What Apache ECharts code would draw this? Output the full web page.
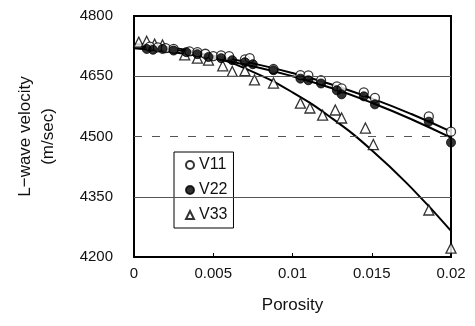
<!DOCTYPE html>
<html><head><meta charset="utf-8">
<script src="https://cdn.jsdelivr.net/npm/echarts@6/dist/echarts.min.js"></script>
<style>html,body{margin:0;padding:0;background:#fff}#c{width:475px;height:326px}</style>
</head><body><div id="c"></div>
<script>
// Measured points (porosity, velocity)
var v11 = [[0.0010,4724],[0.0015,4722],[0.0020,4720],[0.0025,4718],[0.0035,4712],[0.0040,4710],[0.0045,4706],[0.0050,4700],[0.0055,4702],[0.0060,4700],[0.0070,4692],[0.0073,4695],[0.0088,4668],[0.0105,4653],[0.0110,4652],[0.0118,4640],[0.0128,4625],[0.0131,4620],[0.0145,4610],[0.0152,4596],[0.0186,4550],[0.0200,4512]];
var v22 = [[0.0008,4718],[0.0012,4716],[0.0018,4718],[0.0025,4714],[0.0033,4710],[0.0040,4705],[0.0047,4698],[0.0055,4695],[0.0062,4690],[0.0070,4685],[0.0075,4680],[0.0088,4665],[0.0105,4644],[0.0110,4640],[0.0118,4632],[0.0128,4615],[0.0131,4605],[0.0145,4600],[0.0152,4580],[0.0186,4537],[0.0200,4485]];
var v33 = [[0.0003,4735],[0.0008,4737],[0.0013,4730],[0.0018,4728],[0.0032,4703],[0.0040,4695],[0.0047,4690],[0.0056,4676],[0.0062,4662],[0.0070,4664],[0.0076,4641],[0.0088,4633],[0.0105,4583],[0.0111,4571],[0.0119,4553],[0.0127,4566],[0.0131,4546],[0.0146,4521],[0.0151,4480],[0.0186,4317],[0.0200,4222]];
// Trend curves
var fitX = [0,0.0025,0.005,0.0075,0.01,0.0125,0.015,0.0175,0.02];
var fit11 = [4725,4716,4701,4682,4658,4629,4595,4556,4512];
var fit22 = [4720,4710,4695,4675,4650,4620,4584,4543,4497];
var fit33 = [4730,4721,4698,4661,4610,4545,4466,4372,4265];
var yTicks = [4200,4350,4500,4650,4800];
var xTicks = [0,0.005,0.01,0.015,0.02];

function pair(xs, ys){ return xs.map(function(x,i){return [x, ys[i]];}); }
var font = 'Liberation Sans, Arial, sans-serif';
var chart = echarts.init(document.getElementById('c'));
function fitLine(ys){
  return {type:'line', data:pair(fitX, ys), smooth:true, showSymbol:false, symbol:'none',
    lineStyle:{color:'#000', width:2}, silent:true, z:2};
}
chart.setOption({
  animation:false,
  grid:{left:134, right:24, top:16, bottom:69, show:true, borderColor:'#000', borderWidth:2},
  legend:{orient:'vertical', left:174, top:152, data:['V11','V22','V33'],
    borderColor:'#000', borderWidth:1, padding:[5,6,5,11], itemGap:9,
    itemWidth:8, itemHeight:8,
    textStyle:{fontFamily:font, fontSize:16, color:'#111'}},
  xAxis:{type:'value', min:0, max:0.02, interval:0.005,
    name:'Porosity', nameLocation:'middle', nameGap:40,
    nameTextStyle:{fontFamily:font, fontSize:17, color:'#111'},
    axisLine:{lineStyle:{color:'#000', width:2}},
    axisTick:{show:true, inside:true, length:4, lineStyle:{color:'#000'}},
    axisLabel:{fontFamily:font, fontSize:15, color:'#111', margin:9,
      formatter:function(v){return String(parseFloat(v.toFixed(4)));}},
    splitLine:{show:false}},
  yAxis:{type:'value', min:4200, max:4800, interval:150,
    name:'L\u2212wave velocity\n(m/sec)', nameLocation:'middle', nameGap:74,
    nameTextStyle:{fontFamily:font, fontSize:17, color:'#111', lineHeight:23},
    axisLine:{lineStyle:{color:'#000', width:2}},
    axisTick:{show:false},
    axisLabel:{fontFamily:font, fontSize:15, color:'#111', margin:21,
      formatter:function(v){return String(v);}},
    splitLine:{show:false}},
  series:[
    fitLine(fit11), fitLine(fit22), fitLine(fit33),
    {type:'line', data:[], markLine:{silent:true, symbol:'none', label:{show:false},
      data:[
        {yAxis:yTicks[3], lineStyle:{color:'#555', width:1, type:'solid'}},
        {yAxis:yTicks[2], lineStyle:{color:'#555', width:1, type:[8,10]}},
        {yAxis:yTicks[1], lineStyle:{color:'#555', width:1, type:'solid'}}
      ]}, z:1},
    {name:'V11', type:'scatter', data:v11, symbol:'circle', symbolSize:9,
      itemStyle:{color:'#fff', borderColor:'#000', borderWidth:1.3}, z:4},
    {name:'V22', type:'scatter', data:v22, symbol:'circle', symbolSize:9,
      itemStyle:{color:'#000', borderColor:'#000', borderWidth:1}, z:5},
    {name:'V33', type:'scatter', data:v33, symbol:'triangle', symbolSize:10,
      itemStyle:{color:'#fff', borderColor:'#000', borderWidth:1.3}, z:3}
  ]
});
</script></body></html>
